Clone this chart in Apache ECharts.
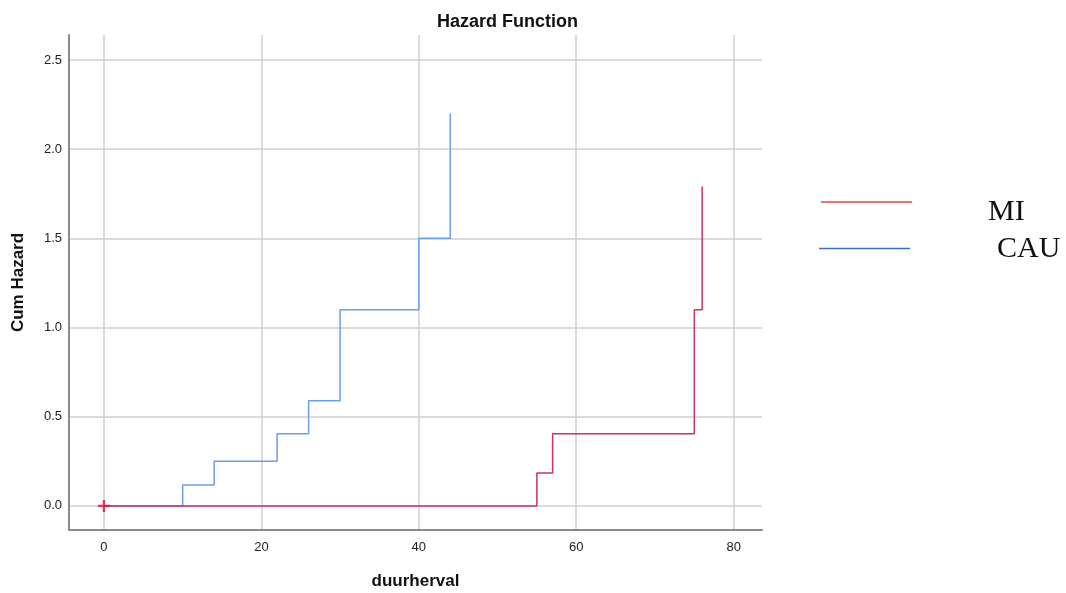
<!DOCTYPE html>
<html>
<head>
<meta charset="utf-8">
<script src="https://cdn.jsdelivr.net/npm/echarts@6/dist/echarts.min.js"></script>
<style>html,body{margin:0;padding:0;background:#fff;}#c{width:1066px;height:593px;}</style>
</head>
<body>
<div id="c"></div>
<script>
// Data
const cauX = [0, 10, 14, 22, 26, 30, 40, 44];
const cauY = [0, 0.117, 0.25, 0.405, 0.59, 1.10, 1.50, 2.20];
const miX = [0, 55, 57, 75, 76];
const miY = [0, 0.185, 0.405, 1.10, 1.79];
const censorX = [0];
const censorY = [0];
const xTicks = [0, 20, 40, 60, 80];
const yTicks = [0, 0.5, 1.0, 1.5, 2.0, 2.5];
const legendNames = ['MI', 'CAU'];

const zip = (a, b) => a.map((v, i) => [v, b[i]]);
const chart = echarts.init(document.getElementById('c'));
const sans = 'Liberation Sans, Arial, sans-serif';
chart.setOption({
  animation: false,
  title: {
    text: 'Hazard Function', left: 432, top: 8,
    textStyle: { fontFamily: sans, fontSize: 18, fontWeight: 'bold', color: '#111' }
  },
  grid: { left: 69, right: 304, top: 35, bottom: 63, outerBoundsMode: 'none', containLabel: false },
  xAxis: {
    type: 'value', min: -4.44, max: 83.6,
    name: 'duurherval', nameLocation: 'middle', nameGap: 43,
    nameTextStyle: { fontFamily: sans, fontSize: 17, fontWeight: 'bold', color: '#111' },
    axisLine: { show: true, onZero: false, lineStyle: { color: '#8a8a8a', width: 2 } },
    axisTick: { show: false, customValues: xTicks },
    axisLabel: { customValues: xTicks, fontFamily: sans, fontSize: 13, color: '#222', margin: 11 },
    splitLine: { show: true, lineStyle: { color: '#cfcfcf', width: 1.5 } }
  },
  yAxis: {
    type: 'value', min: -0.135, max: 2.64,
    name: 'Cum Hazard', nameLocation: 'middle', nameGap: 42, nameRotate: 90,
    nameTextStyle: { fontFamily: sans, fontSize: 17, fontWeight: 'bold', color: '#111' },
    axisLine: { show: true, onZero: false, lineStyle: { color: '#8a8a8a', width: 2 } },
    axisTick: { show: false, customValues: yTicks },
    axisLabel: { customValues: yTicks, fontFamily: sans, fontSize: 13, color: '#222', margin: 7,
      formatter: v => v.toFixed(1) },
    splitLine: { show: true, lineStyle: { color: '#cfcfcf', width: 1.5 } }
  },
  series: [
    { name: 'CAU', type: 'line', step: 'end', data: zip(cauX, cauY), showSymbol: false,
      lineStyle: { color: '#6d9eea', width: 1.5 }, z: 2 },
    { name: 'MI', type: 'line', step: 'end', data: zip(miX, miY), showSymbol: false,
      lineStyle: { color: '#d6305a', width: 1.5 }, z: 3 },
    { type: 'scatter', data: zip(censorX, censorY), symbol: 'path://M4,0H6V4H10V6H6V10H4V6H0V4H4Z',
      symbolSize: 12, itemStyle: { color: '#d6103a' }, z: 4 }
  ],
  graphic: [
    { type: 'line', shape: { x1: 821, y1: 202, x2: 912, y2: 202 }, style: { stroke: '#e8403f', lineWidth: 1.5 } },
    { type: 'line', shape: { x1: 819, y1: 248.5, x2: 910, y2: 248.5 }, style: { stroke: '#3a6fd2', lineWidth: 1.5 } },
    { type: 'text', x: 988, y: 212.5, style: { text: legendNames[0], font: '30px "Liberation Serif", "Times New Roman", serif', fill: '#111', verticalAlign: 'middle' } },
    { type: 'text', x: 997, y: 249, style: { text: legendNames[1], font: '30px "Liberation Serif", "Times New Roman", serif', fill: '#111', verticalAlign: 'middle' } }
  ]
});
</script>
</body>
</html>
